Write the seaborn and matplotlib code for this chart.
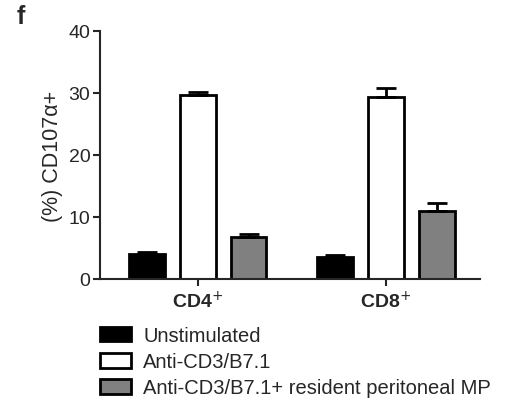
import numpy as np
import pandas as pd
import seaborn as sns
import matplotlib.pyplot as plt

groups = ["CD4$^{+}$", "CD8$^{+}$"]
conditions = ["Unstimulated", "Anti-CD3/B7.1", "Anti-CD3/B7.1+ resident peritoneal MP"]
# mean % CD107a+ per condition (CD4, CD8)
means = {
    "Unstimulated": [4.0, 3.6],
    "Anti-CD3/B7.1": [29.6, 29.4],
    "Anti-CD3/B7.1+ resident peritoneal MP": [6.7, 10.9],
}
# upper error (SEM)
errs = {
    "Unstimulated": [0.35, 0.3],
    "Anti-CD3/B7.1": [0.5, 1.4],
    "Anti-CD3/B7.1+ resident peritoneal MP": [0.55, 1.4],
}
colors = ["#000000", "#ffffff", "#808080"]

rows = []
for c in conditions:
    for g, v in zip(groups, means[c]):
        rows.append({"group": g, "condition": c, "value": v})
df = pd.DataFrame(rows)

sns.set_theme(style="ticks")
plt.rcParams["font.family"] = ["Liberation Sans", "DejaVu Sans"]

fig = plt.figure(figsize=(5.06, 4.02), dpi=100)
ax = fig.add_axes([100 / 506, 1 - 280 / 402, 380 / 506, 248 / 402])

sns.barplot(data=df, x="group", y="value", hue="condition", hue_order=conditions,
            palette=colors, errorbar=None, width=0.81, gap=0.3,
            edgecolor="black", linewidth=2, ax=ax)

for cont, c in zip(ax.containers, conditions):
    xs = [p.get_x() + p.get_width() / 2 for p in cont.patches]
    hs = [p.get_height() for p in cont.patches]
    e = np.array(errs[c])
    ax.errorbar(xs, hs, yerr=[np.zeros_like(e), e], fmt="none", ecolor="black",
                elinewidth=2, capsize=7, capthick=2, zorder=1)

handles, labels = ax.get_legend_handles_labels()
ax.get_legend().remove()
fig.legend(handles, labels, loc="upper left", bbox_to_anchor=(100 / 506, 1 - 327 / 402),
           frameon=False, fontsize=14.5, handlelength=1.55, handleheight=0.75,
           labelspacing=0.36, handletextpad=0.6, borderpad=0, borderaxespad=0)

ax.set_xlim(-0.521, 1.5)
ax.set_ylim(0, 40)
ax.set_yticks([0, 10, 20, 30, 40])
ax.set_xlabel("")
ax.set_ylabel("(%) CD107\u03b1+", fontsize=15.5, labelpad=4)
ax.tick_params(axis="y", labelsize=14, width=1.5, length=5, pad=2)
ax.tick_params(axis="x", labelsize=14, width=1.5, length=5, pad=3)
for lbl in ax.get_xticklabels():
    lbl.set_fontweight("bold")
sns.despine(ax=ax)
for s in ["left", "bottom"]:
    ax.spines[s].set_linewidth(1.5)

fig.text(17 / 506, 1 - 17 / 402, "f", fontsize=18, fontweight="bold", va="center", ha="left")

fig.savefig("out.png", dpi=100)
